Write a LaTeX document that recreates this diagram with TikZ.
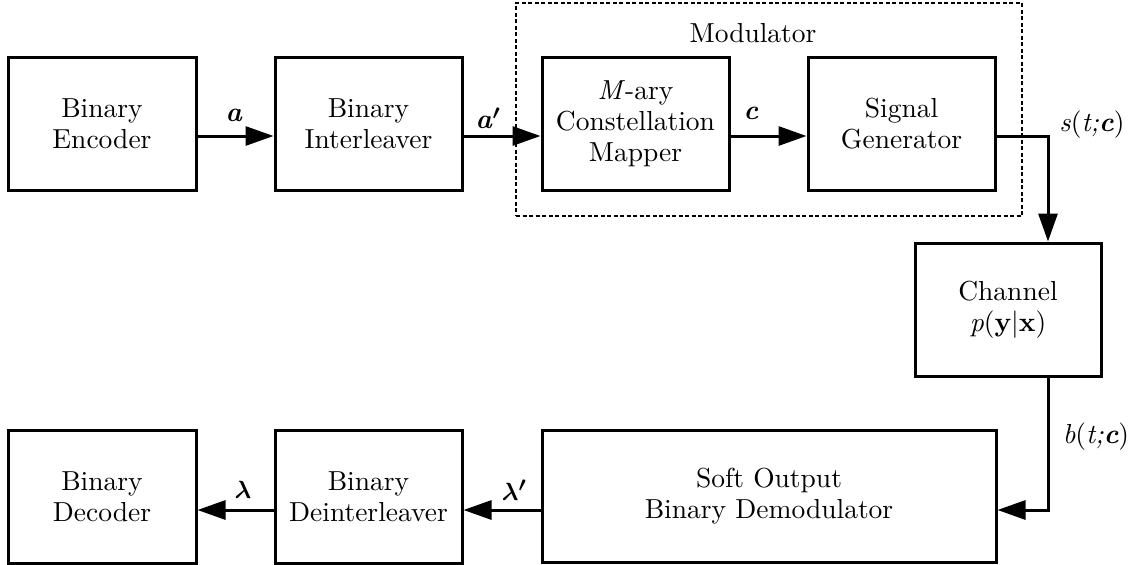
\documentclass[tikz,border=0pt]{standalone}
\usepackage{amsmath}
\usepackage{fontspec}
\setmainfont{lmroman10}[Extension=.otf,
  UprightFont=*-regular, BoldFont=*-bold,
  ItalicFont=*-italic, BoldItalicFont=*-bolditalic]
\usetikzlibrary{arrows.meta}
\begin{document}
\begin{tikzpicture}[x=1pt,y=-1pt,
  txt/.style={font=\rmfamily\fontsize{27.5}{31}\selectfont},
  blk/.style={txt, draw, line width=3pt, inner sep=0pt, align=center,
    minimum height=133pt},
  flow/.style={line width=3pt, -{Triangle[length=28pt,width=19pt]}},
  lbl/.style={txt, inner sep=0pt},
  group/.style={draw, line width=1.5pt, dash pattern=on 4pt off 2.5pt,
    inner sep=0pt}]
\useasboundingbox (0,0) rectangle (1136,565);

% modulator frame
\node[group, minimum width=506pt, minimum height=213pt] (modbox) at (769,109.5) {};
\node[lbl] (modlbl) at (753,33) {Modulator};

% transmitter chain
\node[blk, minimum width=188pt] (enc) at (102,123.5) {Binary\\Encoder};
\node[blk, minimum width=187pt] (int) at (368.5,123.5) {Binary\\Interleaver};
\node[blk, minimum width=187pt] (map) at (635.5,123.5) {\textit{M}-ary\\Constellation\\Mapper};
\node[blk, minimum width=187pt] (sg) at (901.5,123.5) {Signal\\Generator};

% channel
\node[blk, minimum width=186pt] (ch) at (1008,309.5) {Channel\\\textit{p}(\textbf{y}|\textbf{x})};

% receiver chain
\node[blk, minimum width=454pt, minimum height=132pt] (dem) at (769,496) {Soft Output\\Binary Demodulator};
\node[blk, minimum width=187pt] (dint) at (368.5,496.5) {Binary\\Deinterleaver};
\node[blk, minimum width=188pt] (dec) at (102,496.5) {Binary\\Decoder};

% signal rows
\coordinate (toprow) at (0,136);
\coordinate (botrow) at (0,510);
\coordinate (drop) at (1048,0);

\draw[flow] (enc.east |- toprow) -- (int.west |- toprow);
\draw[flow] (int.east |- toprow) -- (map.west |- toprow);
\draw[flow] (map.east |- toprow) -- (sg.west |- toprow);
\draw[flow] (sg.east |- toprow) -| (ch.north -| drop);
\draw[flow] (ch.south -| drop) |- (dem.east |- botrow);
\draw[flow] (dem.west |- botrow) -- (dint.east |- botrow);
\draw[flow] (dint.west |- botrow) -- (dec.east |- botrow);

% signal labels
\node[lbl] (la) at (234,115) {\textbf{\textit{a}}};
\node[lbl] (lap) at (488,118) {\textbf{\textit{a}}$\boldsymbol{'}$};
\node[lbl] (lc) at (751,113) {\textbf{\textit{c}}};
\node[lbl] (ls) at (1092,125) {\textit{s}(\textit{t;}\textbf{\textit{c}})};
\node[lbl] (lb) at (1096,437) {\textit{b}(\textit{t;}\textbf{\textit{c}})};
\node[lbl] (llp) at (514,490) {$\boldsymbol{\lambda'}$};
\node[lbl] (ll) at (243,490) {$\boldsymbol{\lambda}$};
\end{tikzpicture}
\end{document}
